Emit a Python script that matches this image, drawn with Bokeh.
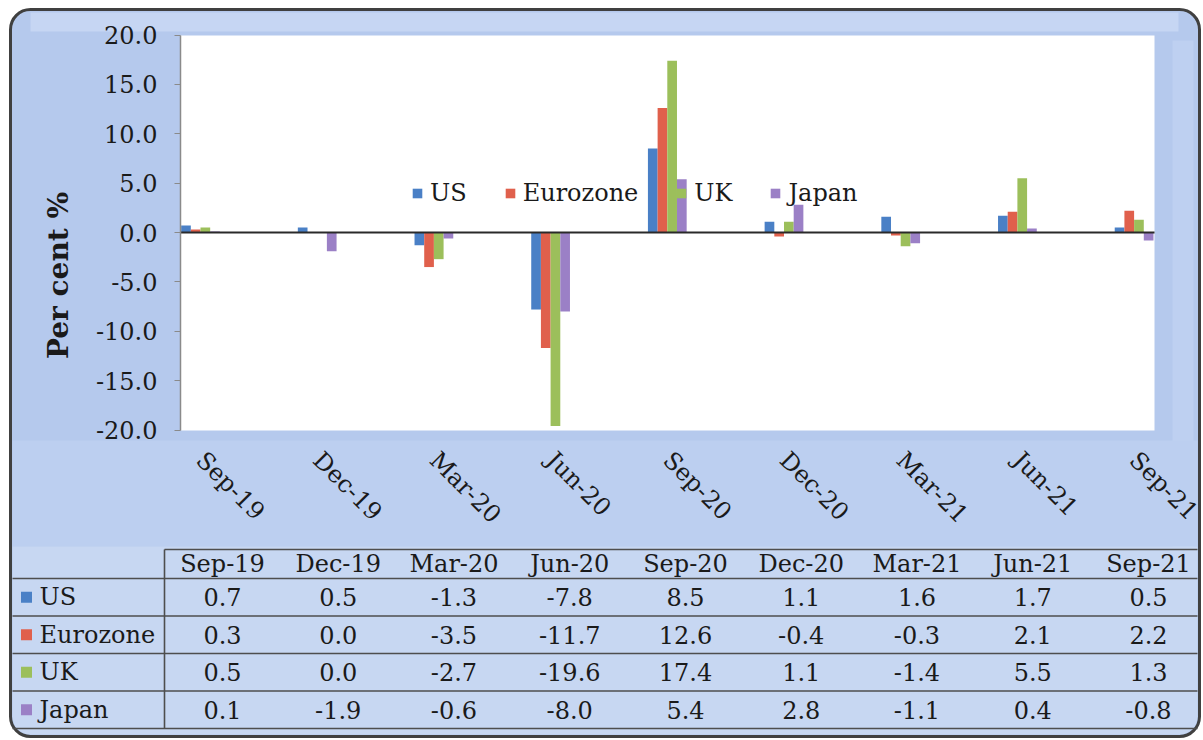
import math
from bokeh.plotting import figure
from bokeh.models import (Range1d, LinearAxis, FixedTicker, NumeralTickFormatter, BoxAnnotation,
                          Legend, LegendItem, ColumnDataSource)
from bokeh.core.properties import value
from bokeh.embed import file_html
from bokeh.resources import INLINE

# ---------------- data ----------------
quarters = ["Sep-19", "Dec-19", "Mar-20", "Jun-20", "Sep-20", "Dec-20", "Mar-21", "Jun-21", "Sep-21"]
series = ["US", "Eurozone", "UK", "Japan"]
us = [0.7, 0.5, -1.3, -7.8, 8.5, 1.1, 1.6, 1.7, 0.5]
eurozone = [0.3, 0.0, -3.5, -11.7, 12.6, -0.4, -0.3, 2.1, 2.2]
uk = [0.5, 0.0, -2.7, -19.6, 17.4, 1.1, -1.4, 5.5, 1.3]
japan = [0.1, -1.9, -0.6, -8.0, 5.4, 2.8, -1.1, 0.4, -0.8]
y_ticks = [-20, -15, -10, -5, 0, 5, 10, 15, 20]
y_label = "Per cent %"

# ---------------- style ----------------
colors = ["#4a80c6", "#e0604c", "#9cbf5b", "#9b80c6"]
FONT = "DejaVu Serif"
TXT = "#1a1a1a"

W, H = 1203, 740
PAGE = 0

# page-pixel layout -> data coordinates (chart)
CAT0_PX, CAT_DX = 200, 116.7
ZERO_PY, PX_PER_UNIT = 232, 9.875
def bx(px): return (px - CAT0_PX) / CAT_DX
def by(py): return (ZERO_PY - py) / PX_PER_UNIT

# page-pixel layout -> table coordinates (column index / row index)
COL0_PX, COL_DX = 222, 115.75
ROW0_PY, ROW_DY = 578, 37.5
def tx(px): return (px - COL0_PX) / COL_DX
def ty(py): return (py - ROW0_PY) / ROW_DY

p = figure(width=W, height=H, output_backend="svg", toolbar_location=None,
           x_range=Range1d(bx(PAGE), bx(PAGE + W)), y_range=Range1d(by(PAGE + H), by(PAGE)),
           x_axis_location=None, y_axis_location=None, min_border=0)
p.extra_x_ranges = {"tx": Range1d(tx(PAGE), tx(PAGE + W))}
p.extra_y_ranges = {"ty": Range1d(ty(PAGE + H), ty(PAGE))}
p.grid.visible = False
p.outline_line_color = None
p.background_fill_color = "white"
p.border_fill_color = "white"

# ---------------- background frame ----------------
def box(px0, px1, py0, py1, **kw):
    b = BoxAnnotation(left=bx(px0), right=bx(px1), top=by(py0), bottom=by(py1), level="underlay", **kw)
    p.add_layout(b)
    return b

box(10, 1199, 9, 736, fill_color="#b5c9ed", fill_alpha=1, line_color=None, border_radius=20)
box(30, 1178, 12, 31, fill_color="#c8d7f3", fill_alpha=0.9, line_color=None)
box(1172, 1193, 40, 700, fill_color="#c0d2f1", fill_alpha=0.8, line_color=None)
box(12, 1197, 440, 546, fill_color="#bccff0", fill_alpha=1, line_color=None)
box(12, 1197, 546, 734, fill_color="#c7d7f2", fill_alpha=1, line_color=None,
    border_radius=(0, 0, 18, 18))
box(180, 1154, 35, 430, fill_color="white", fill_alpha=1, line_color=None)
box(10, 1199, 9, 736, fill_alpha=0, line_color="#404040", line_alpha=1, line_width=3,
    border_radius=20)

# ---------------- bars ----------------
w = 0.083
offsets = [-1.5 * w, -0.5 * w, 0.5 * w, 1.5 * w]
items = []
for name, vals, off, c in zip(series, [us, eurozone, uk, japan], offsets, colors):
    src = ColumnDataSource(dict(x=[i + off for i in range(len(quarters))], top=vals))
    r = p.vbar(x="x", top="top", bottom=0, width=w, source=src, fill_color=c, line_color=None)
    items.append(LegendItem(label=name, renderers=[r]))

# ---------------- axes ----------------
yaxis = LinearAxis(fixed_location=bx(180), bounds=(y_ticks[0], y_ticks[-1]),
                   ticker=FixedTicker(ticks=y_ticks), formatter=NumeralTickFormatter(format="0.0"))
yaxis.axis_line_color = "#8a8a8a"
yaxis.axis_line_width = 1.5
yaxis.major_tick_out = 6
yaxis.major_tick_in = 0
yaxis.major_tick_line_color = "#8a8a8a"
yaxis.minor_tick_out = 0
yaxis.minor_tick_in = 0
yaxis.major_label_text_font = FONT
yaxis.major_label_text_font_size = "24px"
yaxis.major_label_text_color = TXT
yaxis.major_label_standoff = 17
p.add_layout(yaxis, "left")

# axis that only carries the title, centred where the reference puts it
label_axis = LinearAxis(fixed_location=bx(180), bounds=(by(360), by(190)),
                        ticker=FixedTicker(ticks=[]), axis_label=y_label)
label_axis.axis_line_color = None
label_axis.major_tick_line_color = None
label_axis.minor_tick_line_color = None
label_axis.major_tick_out = 0
label_axis.minor_tick_out = 0
label_axis.major_label_text_font_size = "0px"
label_axis.axis_label_text_font = FONT
label_axis.axis_label_text_font_style = "bold"
label_axis.axis_label_text_font_size = "28px"
label_axis.axis_label_text_color = TXT
label_axis.axis_label_standoff = 106
p.add_layout(label_axis, "left")

xaxis = LinearAxis(fixed_location=y_ticks[0], ticker=FixedTicker(ticks=list(range(len(quarters)))),
                   major_label_overrides={i: q for i, q in enumerate(quarters)})
xaxis.axis_line_color = None
xaxis.major_tick_line_color = None
xaxis.minor_tick_line_color = None
xaxis.major_tick_out = 0
xaxis.major_label_orientation = -math.pi / 4
xaxis.major_label_standoff = 26
xaxis.major_label_text_font = FONT
xaxis.major_label_text_font_size = "24px"
xaxis.major_label_text_color = TXT
p.add_layout(xaxis, "below")

zaxis = LinearAxis(fixed_location=0, bounds=(bx(180), bx(1154)), ticker=FixedTicker(ticks=[]))
zaxis.axis_line_color = "#2a2a2a"
zaxis.axis_line_width = 2
zaxis.major_tick_line_color = None
zaxis.minor_tick_line_color = None
zaxis.major_label_text_font_size = "0px"
p.add_layout(zaxis, "below")

# ---------------- legend ----------------
legend = Legend(items=items, orientation="horizontal", location=(411, 533),
                background_fill_alpha=0, border_line_color=None, padding=0, margin=0,
                spacing=37, label_standoff=7, glyph_width=12, glyph_height=12,
                label_text_font=FONT, label_text_font_size="24px", label_text_color=TXT)
p.add_layout(legend)

# ---------------- data table ----------------
HDR_TOP = ty(549)
n_rows = len(series)
kw = dict(x_range_name="tx", y_range_name="ty")
tfont = dict(text_font=value(FONT), text_font_size="24px", text_color=TXT, text_baseline="middle")

seg_x0 = [tx(12)] * (n_rows + 1) + [tx(164), tx(164)]
seg_x1 = [tx(1197)] * (n_rows + 1) + [tx(1197), tx(164)]
seg_y0 = list(range(n_rows + 1)) + [HDR_TOP, HDR_TOP]
seg_y1 = list(range(n_rows + 1)) + [HDR_TOP, n_rows]
p.segment(x0=seg_x0, y0=seg_y0, x1=seg_x1, y1=seg_y1, line_color="#4e4e4e", line_width=1.6, **kw)

hdr = ColumnDataSource(dict(x=list(range(len(quarters))), y=[HDR_TOP / 2] * len(quarters), t=quarters))
p.text(x="x", y="y", text="t", source=hdr, text_align="center", **tfont, **kw)

cx, cy, ct = [], [], []
for k, vals in enumerate([us, eurozone, uk, japan]):
    for j, v in enumerate(vals):
        cx.append(j)
        cy.append(k + 0.5)
        ct.append(f"{v:.1f}")
p.text(x="x", y="y", text="t", source=ColumnDataSource(dict(x=cx, y=cy, t=ct)),
       text_align="center", **tfont, **kw)

rows = [k + 0.5 for k in range(n_rows)]
p.scatter(x=[tx(26)] * n_rows, y=rows, marker="square", size=11, fill_color=colors,
          line_color=None, **kw)
p.text(x=[tx(39)] * n_rows, y=rows, text=series, text_align="left", **tfont, **kw)

open("out.html", "w").write(file_html(p, INLINE))
